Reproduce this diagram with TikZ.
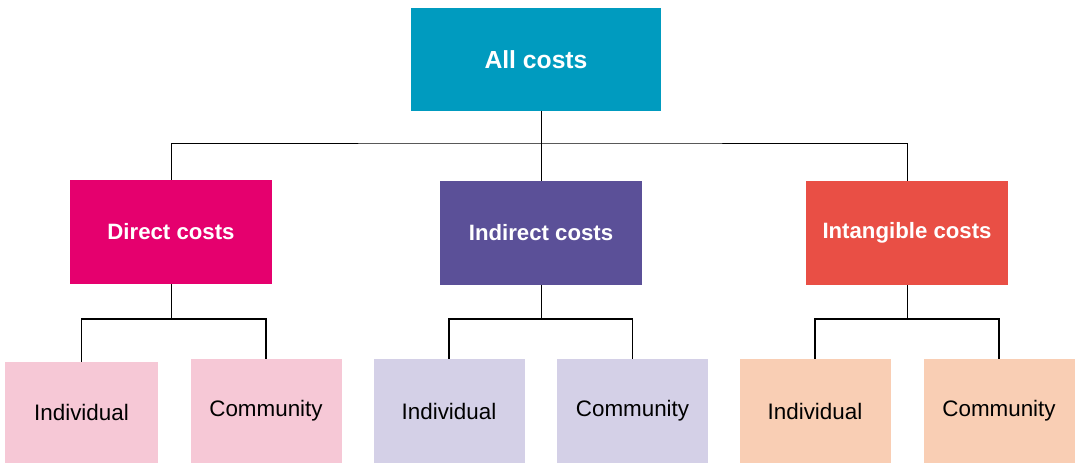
\documentclass[tikz,border=0pt]{standalone}
\usepackage{fontspec}
\setmainfont{Liberation Sans}
\usepackage{tikz}
\usetikzlibrary{positioning}
\definecolor{RootTeal}{HTML}{009BBF}
\definecolor{DirMagenta}{HTML}{E5006E}
\definecolor{IndPurple}{HTML}{5B5098}
\definecolor{IntCoral}{HTML}{E94F45}
\definecolor{SoftPink}{HTML}{F6C8D6}
\definecolor{SoftLilac}{HTML}{D4D0E7}
\definecolor{SoftPeach}{HTML}{F9CEB4}

\begin{document}
\begin{tikzpicture}[
    x=1pt, y=-1pt,
    rootbox/.style={fill=RootTeal, text=white, inner sep=0pt, minimum width=250pt, minimum height=103pt, font=\fontsize{24.7}{29}\selectfont\bfseries},
    groupbox/.style={text=white, inner sep=0pt, minimum width=202pt, minimum height=104pt, font=\fontsize{22.2}{26}\selectfont\bfseries},
    leafbox/.style={text=black, inner sep=0pt, minimum width=151pt, minimum height=103pt, font=\fontsize{22.4}{26}\selectfont},
    topline/.style={draw=black, line width=1pt},
    subline/.style={draw=black, line width=1.6pt}
]
\useasboundingbox (0,0) rectangle (1084,466);
\node[rootbox] (all) at (536,59.5) {All costs};
\node[groupbox, fill=DirMagenta] (direct) at (171,232) {Direct costs};
\node[groupbox, fill=IndPurple] (indirect) at (541,233) {Indirect costs};
\node[groupbox, fill=IntCoral] (intangible) at (907,233) {Intangible costs};
\node[leafbox, fill=SoftPink, minimum width=153pt, minimum height=101pt] (dind) at (81.5,412.5) {Individual};
\node[leafbox, fill=SoftPink, minimum height=104pt] (dcom) at (266,411) {Community};
\node[leafbox, fill=SoftLilac, minimum height=104pt] (iind) at (449,411) {Individual};
\node[leafbox, fill=SoftLilac, minimum height=104pt] (icom) at (632.5,411) {Community};
\node[leafbox, fill=SoftPeach, minimum height=104pt] (tind) at (815,411) {Individual};
\node[leafbox, fill=SoftPeach, minimum height=104pt] (tcom) at (999,411) {Community};
\coordinate (bar) at (541,143);
\coordinate (subbar) at (0,319);
% top level
\draw[topline] (all.south -| indirect.north) -- (indirect.north);
\draw[topline] (direct.north) |- (bar) -| (intangible.north);
% second level
\foreach \p/\a/\b in {direct/dind/dcom, indirect/iind/icom, intangible/tind/tcom}{
  \draw[topline] (\p.south) -- (\p.south |- subbar);
  \draw[subline] (\a.north) |- (\p.south |- subbar) -| (\b.north);
}
\end{tikzpicture}
\end{document}
